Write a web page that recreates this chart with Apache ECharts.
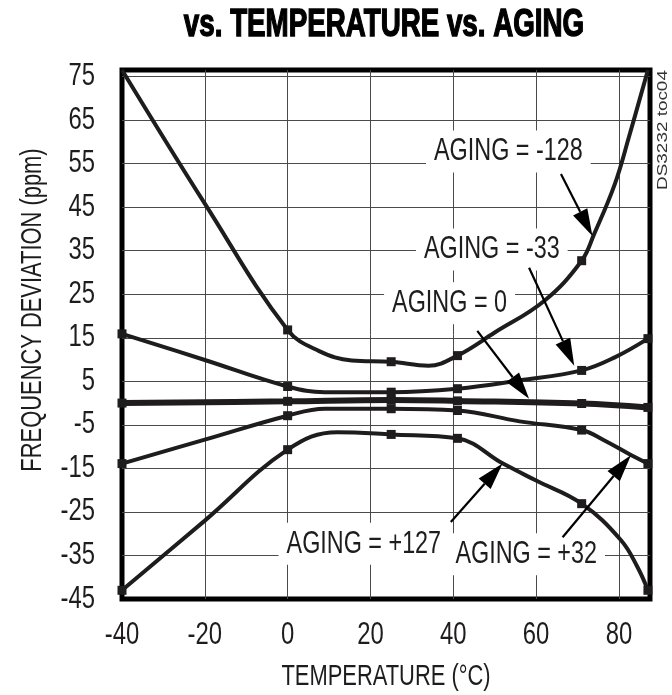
<!DOCTYPE html>
<html><head><meta charset="utf-8">
<script src="https://cdn.jsdelivr.net/npm/echarts@6/dist/echarts.min.js"></script>
<style>html,body{margin:0;padding:0;background:#fff}#c{width:672px;height:695px}</style>
</head><body><div id="c"></div>
<script>
const FONT = '"Liberation Sans", Arial, sans-serif';
const NARROW = 0.73;           // horizontal squeeze to mimic a condensed face
const INK = '#1e1c1d';

// axes
const xMin = -40, xMax = 87.5, xStep = 20;
const yMin = -45, yMax = 76.5, yStep = 10;
const xTicks = [-40, -20, 0, 20, 40, 60, 80];
const yTicks = [-45, -35, -25, -15, -5, 5, 15, 25, 35, 45, 55, 65, 75];

// temperatures where measurements were taken (square markers)
const measuredTemps = [-40, 0, 25, 41, 71, 87];

// series: [temperature °C, frequency deviation ppm]
const agingM128 = [[-40,76.5],[-20,45.8],[0,16.8],[7.5,12],[15.5,9.8],[25,9.5],[34,8.6],[41,10.9],[50,16.2],[62,23.5],[71,32.7],[74,38.8],[79,50.3],[82.5,61.4],[87,76.5]];
const agingM33  = [[-40,15.9],[-20,9.9],[0,3.8],[9,2.5],[25,2.5],[41,3.3],[56,5.2],[71,7.5],[79,10.5],[87,14.8]];
const aging0    = [[-40,0],[0,0.4],[25,0.7],[41,0.5],[71,-0.1],[87,-1]];
const agingP32  = [[-40,-13.9],[-20,-8.4],[0,-2.9],[9,-1.3],[25,-1.3],[41,-1.7],[56,-4.2],[71,-6.2],[76.5,-8.6],[83,-12],[87,-13.9]];
const agingP127 = [[-40,-43],[-20,-27],[0,-10.7],[12,-6.7],[25,-7.2],[41,-8.1],[52,-13.9],[60,-17.8],[71,-23.1],[80.5,-31.5],[84.5,-37.7],[87,-43]];

// annotations (data coordinates)
const labelTexts = ['AGING = -128','AGING = -33','AGING = 0','AGING = +127','AGING = +32'];
const labelAt    = [[53.3,57.8],[49.3,35.3],[39.1,22.9],[18.4,-32.3],[57.6,-34.7]];
const arrowFrom  = [[66.0,52.6],[58.3,31.1],[45.8,16.6],[39.4,-27.3],[66.4,-30.8]];
const arrowTo    = [[73.6,38.4],[69.2,8.6],[58.3,1.0],[51.9,-13.9],[82.9,-12.0]];

const chart = echarts.init(document.getElementById('c'), null, {renderer:'canvas'});

function curve(name, data, width){
  return {
    name, type:'line', data, smooth:0.4,
    symbol: v => (measuredTemps.includes(v[0]) && v[1] < yMax) ? 'rect' : 'none',
    symbolSize: 9, showSymbol:true,
    lineStyle:{color:INK, width:width||4},
    itemStyle:{color:INK},
    z:4, silent:true
  };
}

function tickLabels(values, isX){
  return {
    type:'custom', silent:true, z:3,
    data: values.map(v => isX ? [v, yMin] : [xMin, v]),
    renderItem:(params, api) => {
      const p = api.coord([api.value(0), api.value(1)]);
      const v = isX ? api.value(0) : api.value(1);
      return {type:'text', x: isX ? p[0] : p[0]-27, y: isX ? p[1]+36 : p[1], scaleX:0.77,
        style:{text:String(v), font:'31px '+FONT, fill:INK,
               align: isX ? 'center' : 'right', verticalAlign:'middle'}};
    }
  };
}

chart.setOption({
  animation:false,
  backgroundColor:'#fff',
  graphic:[
    {type:'text', x:384, y:26, scaleX:0.73,
     style:{text:'vs. TEMPERATURE vs. AGING', font:'bold 38px '+FONT, fill:'#000', stroke:'#000', lineWidth:1.4,
            align:'center', verticalAlign:'middle'}},
    {type:'text', x:663, y:130, rotation:Math.PI/2, scaleX:1.35,
     style:{text:'DS3232 toc04', font:'14px '+FONT, fill:'#333', align:'center', verticalAlign:'middle'}},
    {type:'text', x:386, y:677, scaleX:NARROW,
     style:{text:'TEMPERATURE (°C)', font:'30px '+FONT, fill:INK, align:'center', verticalAlign:'middle'}},
    {type:'text', x:33, y:310, rotation:Math.PI/2, scaleX:NARROW,
     style:{text:'FREQUENCY DEVIATION (ppm)', font:'30px '+FONT, fill:INK, align:'center', verticalAlign:'middle'}}
  ],
  grid:{left:122, right:22, top:70, bottom:96, show:true, borderColor:'#000', borderWidth:5, backgroundColor:'transparent'},
  xAxis:{
    type:'value', min:xMin, max:xMax, interval:xStep,
    axisLine:{show:false}, axisTick:{show:false}, axisLabel:{show:false},
    splitLine:{show:true, showMinLine:false, showMaxLine:false, lineStyle:{color:'#4a4a4a', width:1}}
  },
  yAxis:{
    type:'value', min:yMin, max:yMax, interval:yStep,
    axisLine:{show:false}, axisTick:{show:false}, axisLabel:{show:false},
    splitLine:{show:true, showMinLine:false, showMaxLine:false, lineStyle:{color:'#4a4a4a', width:1}}
  },
  series:[
    tickLabels(xTicks, true),
    tickLabels(yTicks, false),
    {
      type:'custom', name:'labels', z:3, silent:true,
      data: labelAt.map(p => [p[0], p[1]]),
      renderItem:(params, api) => {
        const p = api.coord([api.value(0), api.value(1)]);
        return {type:'text', x:p[0], y:p[1], scaleX:NARROW,
          style:{text:labelTexts[params.dataIndex], font:'32px '+FONT, fill:INK,
                 align:'center', verticalAlign:'middle', backgroundColor:'#fff', padding:[5,11]}};
      }
    },
    curve('AGING = -128', agingM128),
    curve('AGING = -33', agingM33),
    curve('AGING = 0', aging0, 6),
    curve('AGING = +32', agingP32),
    curve('AGING = +127', agingP127),
    {
      type:'custom', name:'arrows', z:5, silent:true,
      data: arrowFrom.map((a,i) => [a[0], a[1], arrowTo[i][0], arrowTo[i][1]]),
      renderItem:(params, api) => {
        const p1 = api.coord([api.value(0), api.value(1)]);
        const p2 = api.coord([api.value(2), api.value(3)]);
        const dx = p2[0]-p1[0], dy = p2[1]-p1[1], L = Math.hypot(dx,dy);
        const ux = dx/L, uy = dy/L, hl = 27, hw = 8;
        const bx = p2[0]-ux*hl, by = p2[1]-uy*hl;
        return {type:'group', children:[
          {type:'line', shape:{x1:p1[0], y1:p1[1], x2:bx, y2:by}, style:{stroke:'#000', lineWidth:2.2}},
          {type:'polygon', shape:{points:[[p2[0],p2[1]],[bx-uy*hw, by+ux*hw],[bx+uy*hw, by-ux*hw]]}, style:{fill:'#000'}}
        ]};
      }
    }
  ]
});
</script></body></html>
